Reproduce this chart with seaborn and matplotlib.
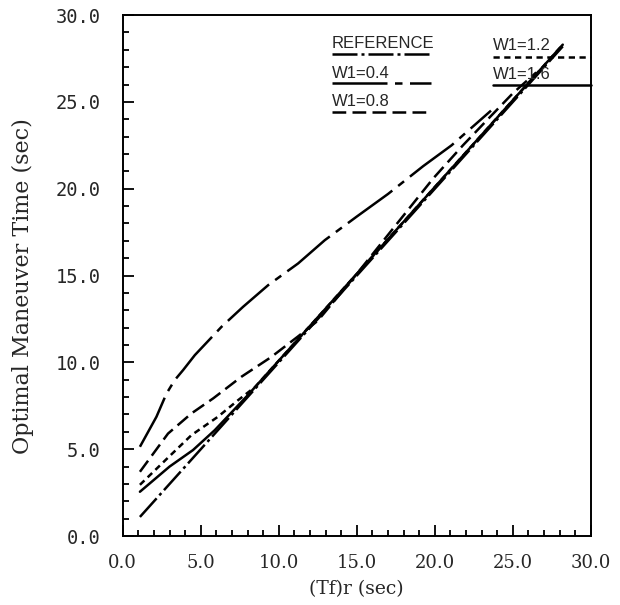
import pandas as pd
import matplotlib
matplotlib.use("Agg")
import matplotlib.pyplot as plt
import seaborn as sns

# -----------------------------
# DATA
# -----------------------------
ref_x = [1.1, 6.0, 10.0, 15.0, 20.0, 25.0, 28.2]
ref_y = [1.1, 6.0, 10.0, 15.0, 20.0, 25.0, 28.2]

w04_x = [1.1, 2.16, 2.8, 3.33, 3.87, 4.62, 6.33, 7.71, 9.32, 11.24, 12.95, 15.0, 17.0, 19.25, 21.07, 23.6]
w04_y = [5.14, 6.87, 8.2, 8.98, 9.56, 10.42, 12.05, 13.2, 14.45, 15.7, 17.04, 18.4, 19.7, 21.3, 22.5, 24.5]

w08_x = [1.1, 2.9, 4.4, 5.8, 7.6, 9.5, 11.24, 12.5, 15.0, 19.9, 21.8, 23.5, 25.0, 26.5]
w08_y = [3.7, 5.9, 7.06, 7.93, 9.17, 10.3, 11.5, 12.4, 15.1, 20.6, 22.5, 24.1, 25.5, 26.7]

w12_x = [1.1, 3.0, 4.4, 6.1, 7.4, 8.5, 12.0, 15.0, 20.0, 25.0, 28.2]
w12_y = [2.95, 4.6, 5.81, 6.87, 7.83, 8.6, 12.1, 15.1, 20.1, 25.1, 28.3]

w16_x = [1.1, 3.0, 4.5, 5.9, 8.0, 10.0, 15.0, 20.0, 25.0, 28.2]
w16_y = [2.55, 4.0, 4.95, 6.1, 8.1, 10.1, 15.1, 20.1, 25.1, 28.3]

labels = ["REFERENCE", "W1=0.4", "W1=0.8", "W1=1.2", "W1=1.6"]
xs = [ref_x, w04_x, w08_x, w12_x, w16_x]
ys = [ref_y, w04_y, w08_y, w12_y, w16_y]

frames = [pd.DataFrame({"tf": x, "t": y, "case": lab}) for lab, x, y in zip(labels, xs, ys)]
data = pd.concat(frames, ignore_index=True)

dash_map = {
    "REFERENCE": (10, 1.6, 1.2, 1.6),
    "W1=0.4": (22, 3, 3, 3),
    "W1=0.8": (5.5, 2.5),
    "W1=1.2": (2.5, 1.8),
    "W1=1.6": "",
}

# -----------------------------
# PLOT
# -----------------------------
sns.set_style("white")

fig = plt.figure(figsize=(6.2, 6.05), dpi=100)
ax = fig.add_axes([0.198, 0.114, 0.755, 0.861])

sns.lineplot(data=data, x="tf", y="t", style="case", dashes=dash_map,
             color="black", linewidth=1.8, estimator=None, sort=False,
             legend=False, ax=ax)

ax.set_xlim(0, 30)
ax.set_ylim(0, 30)
ax.set_xticks(range(0, 31, 5))
ax.set_yticks(range(0, 31, 5))
ax.set_xticks(range(0, 31), minor=True)
ax.set_yticks(range(0, 31), minor=True)
ax.set_xticklabels([f"{v:.1f}" for v in range(0, 31, 5)],
                   family="DejaVu Serif", fontsize=13)
ax.set_yticklabels([f"{v:.1f}" for v in range(0, 31, 5)],
                   family="DejaVu Sans Mono", fontsize=13.5)

ax.tick_params(which="both", direction="in", color="black", width=1.3,
               bottom=True, left=True, top=False, right=False)
ax.tick_params(which="major", length=8)
ax.tick_params(which="minor", length=4.3)
ax.tick_params(axis="y", pad=16)
ax.tick_params(axis="x", pad=13)

for s in ax.spines.values():
    s.set_color("black")
    s.set_linewidth(1.4)

ax.set_xlabel("(Tf)r (sec)", family="DejaVu Serif", fontsize=13.5, labelpad=6)
ax.set_ylabel("Optimal Maneuver Time (sec)", family="DejaVu Serif", fontsize=16)
ax.yaxis.set_label_coords(-0.19, 0.48)

# legend drawn as text with a line sample underneath
leg = [
    ("REFERENCE", 0.447, 0.946, 0.9245, 0.656),
    ("W1=0.4", 0.447, 0.888, 0.869, 0.658),
    ("W1=0.8", 0.447, 0.834, 0.814, 0.658),
    ("W1=1.2", 0.791, 0.942, 0.920, 1.0),
    ("W1=1.6", 0.791, 0.886, 0.866, 1.0),
]
for lab, x0, ty, ly, x1 in leg:
    ax.text(x0, ty, lab, transform=ax.transAxes, family="Liberation Sans",
            fontsize=12, va="center", ha="left")
    ln, = ax.plot([x0, x1], [ly, ly], transform=ax.transAxes, color="black",
                  linewidth=1.8, clip_on=False)
    if dash_map[lab]:
        ln.set_dashes(dash_map[lab])

fig.savefig("out.png", dpi=100)
